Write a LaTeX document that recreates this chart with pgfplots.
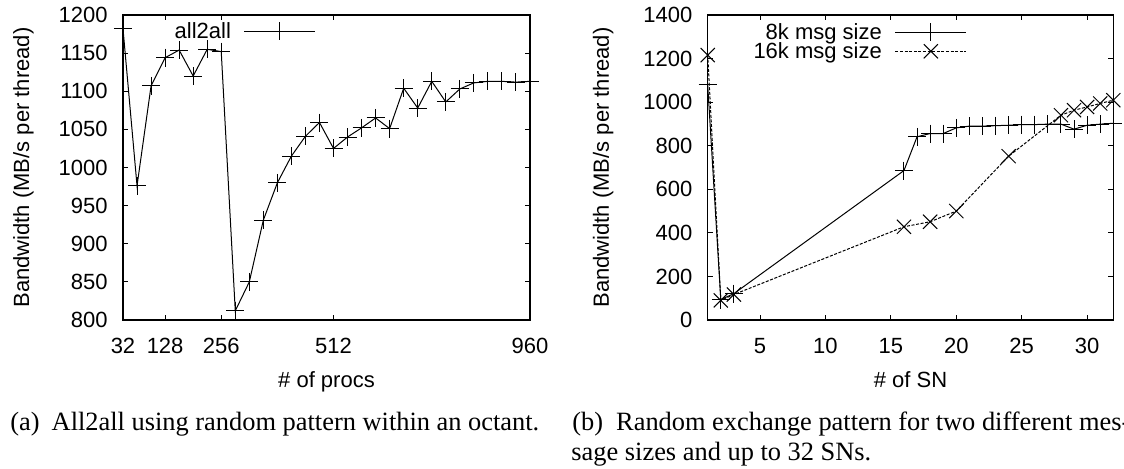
\documentclass[border=0pt]{standalone}
\usepackage{fontspec}
\setmainfont{Liberation Serif}
\newfontfamily\helv{Liberation Sans}
\usepackage{pgfplots}
\pgfplotsset{compat=1.18}

\newcommand\plotfont{\helv\fontsize{11pt}{13pt}\selectfont}
\newcommand\capfont{\fontsize{13.2pt}{15pt}\selectfont}

% all2all bandwidth inside one octant
\pgfplotstableread{
procs bw
32  1182
64  976
96  1107
128 1144
160 1154
192 1120
224 1155
256 1152
288 812
320 850
352 931
384 980
416 1015
448 1041
480 1059
512 1025
544 1040
576 1052
608 1065
640 1051
672 1104
704 1078
736 1113
768 1086
800 1103
832 1111
864 1113
896 1113
928 1112
960 1113
}\alltoall

% random exchange, 8k messages
\pgfplotstableread{
sn bw
1  1079
2  94
3  121
16 686
17 841
18 856
19 856
20 882
21 890
22 890
23 892
24 894
25 897
26 897
27 899
28 899
29 876
30 894
31 899
32 903
}\eightk

% random exchange, 16k messages
\pgfplotstableread{
sn bw
1  1216
2  90
3  117
16 428
18 451
20 500
24 752
28 940
29 963
30 978
31 994
32 1009
}\sixteenk

\pgfplotsset{
  gpstyle/.style={
    scale only axis,
    height=152.5pt,
    clip=false,
    axis line style={line width=0.6pt},
    tick align=inside,
    major tick length=2.5pt,
    tick style={line width=0.5pt, black},
    font=\plotfont,
    /pgf/number format/assume math mode=true,
    /pgf/number format/set thousands separator={},
    xticklabel style={anchor=base, yshift=-16.5pt, inner sep=0pt},
    yticklabel style={anchor=east, xshift=-7.5pt, inner sep=0pt},
    xlabel style={at={(axis description cs:0.5,0)}, anchor=base, yshift=-33.5pt},
    legend plot pos=right,
    legend cell align=right,
    legend style={draw=none, fill=none, inner sep=0pt, outer sep=0pt,
      font=\plotfont, row sep=0pt, nodes={inner sep=0pt, outer sep=0pt}},
    % key sample: short line with one mark in the middle
    legend image code/.code={
      \path (0pt,0.4pt) (42pt,0.4pt);
      \draw[mark repeat=2, mark phase=2, #1]
        plot coordinates {(6.5pt,0.4pt) (24.25pt,0.4pt) (42pt,0.4pt)};
    },
  },
  gpline/.style={black, line width=0.5pt},
}

\begin{document}
\begin{tikzpicture}
\useasboundingbox (0pt,0pt) rectangle (562pt,234pt);

\begin{axis}[gpstyle,
  at={(61.5pt,74pt)}, anchor=south west, width=203.5pt,
  xmin=32, xmax=960, ymin=800, ymax=1200,
  xtick={32,128,256,512,960},
  ytick={800,850,...,1200},
  xlabel={\# of procs},
  ylabel={Bandwidth (MB/s per thread)},
  ylabel style={at={(axis description cs:-0.2445,0.5)}, anchor=center},
  legend style={at={(0.474,0.945)}, anchor=east},
]
\addplot[gpline, mark=+, mark size=4.5pt] table[x=procs, y=bw] {\alltoall};
\addlegendentry{all2all}
\end{axis}

\begin{axis}[gpstyle,
  at={(353.85pt,74pt)}, anchor=south west, width=202.8pt,
  xmin=1, xmax=32, ymin=0, ymax=1400,
  xtick={5,10,...,30},
  ytick={0,200,...,1400},
  xlabel={\# of SN},
  ylabel={Bandwidth (MB/s per thread)},
  ylabel style={at={(axis description cs:-0.258,0.5)}, anchor=center},
  legend style={at={(0.639,0.91)}, anchor=east},
]
\addplot[gpline, mark=+, mark size=4.5pt] table[x=sn, y=bw] {\eightk};
\addlegendentry{8k msg size}
\addplot[gpline, dash pattern=on 1.5pt off 0.8pt, mark=x, mark size=5pt,
  mark options={solid}] table[x=sn, y=bw] {\sixteenk};
\addlegendentry{16k msg size}
\end{axis}

\node[anchor=base west, font=\capfont, inner sep=0pt] at (5pt,19pt)
  {(a)\hspace{6pt}All2all using random pattern within an octant.};
\node[anchor=base west, font=\capfont, inner sep=0pt] at (286pt,19pt)
  {(b)\hspace{6.5pt}Random exchange pattern for two different mes-};
\node[anchor=base west, font=\capfont, inner sep=0pt] at (285.5pt,4pt)
  {sage sizes and up to 32 SNs.};
\end{tikzpicture}
\end{document}
